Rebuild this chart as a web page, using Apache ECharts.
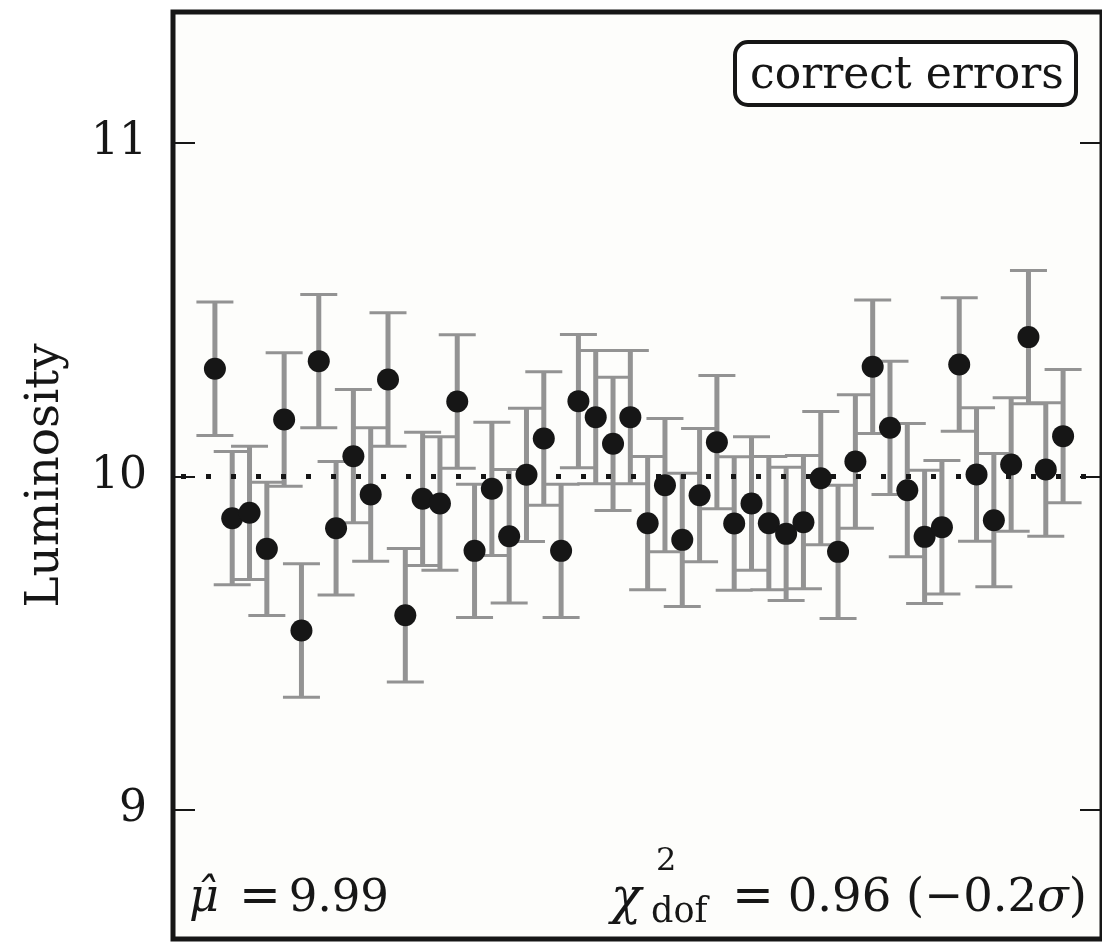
<!DOCTYPE html>
<html>
<head>
<meta charset="utf-8">
<script src="https://cdn.jsdelivr.net/npm/echarts@6/dist/echarts.min.js"></script>
<style>
html,body{margin:0;padding:0;background:#ffffff;}
#chart{width:1102px;height:942px;}
</style>
</head>
<body>
<div id="chart"></div>
<script>
// ---- data ----
const xs = [1,2,3,4,5,6,7,8,9,10,11,12,13,14,15,16,17,18,19,20,21,22,23,24,25,26,27,28,29,30,31,32,33,34,35,36,37,38,39,40,41,42,43,44,45,46,47,48,49,50];
const values = [10.323, 9.875, 9.891, 9.783, 10.171, 9.538, 10.346, 9.845, 10.061, 9.946,
                10.291, 9.584, 9.933, 9.919, 10.225, 9.777, 9.963, 9.821, 10.005, 10.114,
                9.777, 10.226, 10.178, 10.098, 10.178, 9.860, 9.974, 9.810, 9.944, 10.103,
                9.859, 9.919, 9.860, 9.828, 9.863, 9.995, 9.774, 10.045, 10.329, 10.146,
                9.959, 9.819, 9.848, 10.336, 10.006, 9.869, 10.036, 10.418, 10.021, 10.121];
const errors = [0.2,0.2,0.2,0.2,0.2,0.2,0.2,0.2,0.2,0.2,
                0.2,0.2,0.2,0.2,0.2,0.2,0.2,0.2,0.2,0.2,
                0.2,0.2,0.2,0.2,0.2,0.2,0.2,0.2,0.2,0.2,
                0.2,0.2,0.2,0.2,0.2,0.2,0.2,0.2,0.2,0.2,
                0.2,0.2,0.2,0.2,0.2,0.2,0.2,0.2,0.2,0.2];
const yTicks = [9, 10, 11];
const refLevel = 10;
const yLabel = 'Luminosity';
const boxLabel = 'correct errors';
const muText = '9.99';
const chiText = '0.96 (−0.2';

const SERIF = '"DejaVu Serif", "Liberation Serif", serif';
const INK = '#161616';
const BAR = '#939393';

const chart = echarts.init(document.getElementById('chart'), null, {renderer: 'canvas'});

const errData = xs.map((x, i) => [x, values[i], errors[i]]);
const ptData = xs.map((x, i) => [x, values[i]]);

const tickStyle = {show: true, inside: true, length: 22, lineStyle: {color: INK, width: 2}, customValues: yTicks};

const option = {
  animation: false,
  backgroundColor: '#ffffff',
  grid: {
    left: 173, top: 12, right: -2, bottom: 3,
    show: true, backgroundColor: '#fdfdfb', borderColor: INK, borderWidth: 5,
    containLabel: false
  },
  xAxis: {
    type: 'value', min: -1.421, max: 52.248,
    axisLine: {show: false, onZero: false}, axisTick: {show: false}, axisLabel: {show: false}, splitLine: {show: false}
  },
  yAxis: [{
    type: 'value', min: 8.613, max: 11.393, position: 'left',
    name: yLabel, nameLocation: 'middle', nameGap: 104, nameRotate: 90,
    nameTextStyle: {fontFamily: SERIF, fontSize: 47, color: INK},
    axisLine: {show: false, onZero: false},
    axisTick: tickStyle,
    axisLabel: {show: true, margin: 26, fontFamily: SERIF, fontSize: 44, color: INK, customValues: yTicks,
                formatter: v => String(Math.round(v))},
    splitLine: {show: false}
  }, {
    type: 'value', min: 8.613, max: 11.393, position: 'right',
    axisLine: {show: false, onZero: false},
    axisTick: tickStyle,
    axisLabel: {show: false},
    splitLine: {show: false}
  }],
  series: [{
    type: 'custom',
    z: 2,
    data: errData,
    renderItem: function (params, api) {
      const x = api.value(0), y = api.value(1), e = api.value(2);
      const top = api.coord([x, y + e]);
      const bot = api.coord([x, y - e]);
      const hw = 18.5;
      return {
        type: 'group',
        children: [
          {type: 'line', shape: {x1: top[0], y1: top[1], x2: bot[0], y2: bot[1]}, style: {stroke: BAR, lineWidth: 5}},
          {type: 'line', shape: {x1: top[0] - hw, y1: top[1], x2: top[0] + hw, y2: top[1]}, style: {stroke: BAR, lineWidth: 3}},
          {type: 'line', shape: {x1: bot[0] - hw, y1: bot[1], x2: bot[0] + hw, y2: bot[1]}, style: {stroke: BAR, lineWidth: 3}}
        ]
      };
    },
    markLine: {
      silent: true, symbol: 'none', label: {show: false},
      lineStyle: {type: [5, 20], dashOffset: 17, width: 5, color: INK, cap: 'butt', opacity: 1},
      data: [{yAxis: refLevel}]
    }
  }, {
    type: 'scatter',
    z: 3,
    data: ptData,
    symbol: 'circle', symbolSize: 22,
    itemStyle: {color: INK, opacity: 1}
  }],
  graphic: [
    {type: 'rect', shape: {x: 735, y: 42, width: 341, height: 63, r: 13},
     style: {fill: '#ffffff', stroke: INK, lineWidth: 4}, z: 10},
    {type: 'text', x: 907, y: 77, z: 11,
     style: {text: boxLabel, font: '44px ' + SERIF, fill: INK, align: 'center', verticalAlign: 'middle'}},
    // left annotation
    {type: 'text', x: 189, y: 899, z: 11,
     style: {text: 'μ̂', font: 'italic 46px ' + SERIF, fill: INK, align: 'left', verticalAlign: 'middle'}},
    {type: 'text', x: 260, y: 899, z: 11,
     style: {text: '=', font: '50px ' + SERIF, fill: INK, align: 'center', verticalAlign: 'middle'}},
    {type: 'text', x: 389, y: 899, z: 11,
     style: {text: muText, font: '45px ' + SERIF, fill: INK, align: 'right', verticalAlign: 'middle'}},
    // right annotation
    {type: 'text', x: 611, y: 900, z: 11,
     style: {text: 'χ', font: 'italic 50px ' + SERIF, fill: INK, align: 'left', verticalAlign: 'middle'}},
    {type: 'text', x: 656, y: 862, z: 11,
     style: {text: '2', font: '32px ' + SERIF, fill: INK, align: 'left', verticalAlign: 'middle'}},
    {type: 'text', x: 651, y: 913, z: 11,
     style: {text: 'dof', font: '35px ' + SERIF, fill: INK, align: 'left', verticalAlign: 'middle'}},
    {type: 'text', x: 753, y: 899, z: 11,
     style: {text: '=', font: '50px ' + SERIF, fill: INK, align: 'center', verticalAlign: 'middle'}},
    {type: 'text', x: 1087, y: 899, z: 11,
     style: {text: chiText + '{it|σ})', font: '46.5px ' + SERIF, fill: INK, align: 'right', verticalAlign: 'middle',
             rich: {it: {font: 'italic 46.5px ' + SERIF, fill: INK}}}}
  ]
};
chart.setOption(option);
</script>
</body>
</html>
